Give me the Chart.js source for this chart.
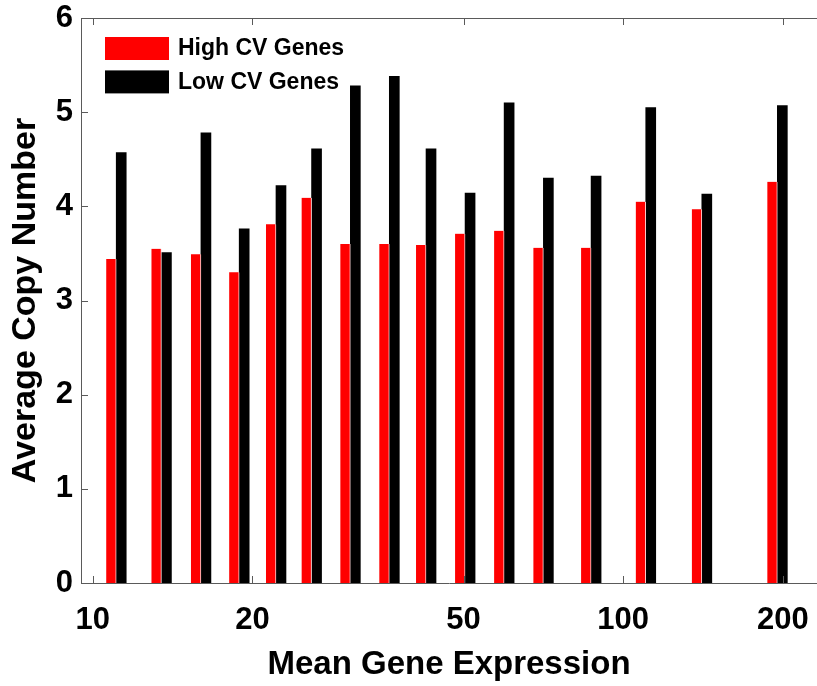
<!DOCTYPE html>
<html lang="en">
<head>
<meta charset="UTF-8">
<title>Average Copy Number vs Mean Gene Expression</title>
<script src="https://cdn.jsdelivr.net/npm/chart.js"></script>
<style>
  body { margin: 0; background: #fff; }
  canvas { display: block; }
</style>
</head>
<body>
<canvas id="myChart" width="817" height="686"></canvas>
<script>
// expression bins (log-spaced centres) and average copy number per bin
const binCenters = [11.07, 13.47, 15.99, 18.88, 22.15, 25.85, 30.59, 36.23, 42.49, 50.34, 59.64, 70.72, 87.0, 110.3, 140.7, 195.3];
const highCV = [3.44, 3.55, 3.49, 3.30, 3.81, 4.09, 3.60, 3.60, 3.59, 3.71, 3.74, 3.56, 3.56, 4.05, 3.97, 4.26];
const lowCV = [4.57, 3.51, 4.78, 3.76, 4.22, 4.61, 5.28, 5.38, 4.61, 4.14, 5.10, 4.30, 4.32, 5.05, 4.13, 5.07];
const xTicks = [10, 20, 50, 100, 200];
const yTicks = [0, 1, 2, 3, 4, 5, 6];

const axisColor = '#5a5a5a';
const fontFamily = '"Liberation Sans", Arial, sans-serif';

// box frame with inward tick marks + legend inside the plot
const frame = {
    id: 'frame',
    afterDatasetsDraw(chart) {
        const { ctx, chartArea: a, scales: { x, y } } = chart;
        ctx.save();
        ctx.strokeStyle = axisColor;
        ctx.lineWidth = 1;
        ctx.beginPath();
        ctx.moveTo(a.left, a.top + 0.5);
        ctx.lineTo(a.right, a.top + 0.5);
        xTicks.forEach(v => {
            const px = Math.round(x.getPixelForValue(v)) + 0.5;
            ctx.moveTo(px, a.bottom);
            ctx.lineTo(px, a.bottom - 7);
            ctx.moveTo(px, a.top);
            ctx.lineTo(px, a.top + 7);
        });
        yTicks.forEach(v => {
            const py = Math.round(y.getPixelForValue(v)) + 0.5;
            ctx.moveTo(a.left, py);
            ctx.lineTo(a.left + 7, py);
        });
        ctx.stroke();

        ctx.font = 'bold 23px ' + fontFamily;
        ctx.textBaseline = 'middle';
        ctx.textAlign = 'left';
        chart.data.datasets.forEach((ds, i) => {
            const bx = a.left + 24;
            const by = a.top + 19 + i * 33.4;
            ctx.fillStyle = ds.backgroundColor;
            ctx.fillRect(bx, by, 64, 23);
            ctx.fillStyle = '#000';
            ctx.fillText(ds.label, bx + 73, by + 12);
        });
        ctx.restore();
    }
};

const ctx = document.getElementById('myChart').getContext('2d');

const chart = new Chart(ctx, {
    type: 'bar',
    data: {
        labels: binCenters,
        datasets: [{
            label: 'High CV Genes',
            data: highCV,
            backgroundColor: '#ff0000',
            borderColor: '#ffd6d6',
            borderWidth: { top: 0, left: 0, bottom: 0, right: 1 },
            borderSkipped: false,
            barThickness: 10
        }, {
            label: 'Low CV Genes',
            data: lowCV,
            backgroundColor: '#000000',
            barThickness: 10
        }]
    },
    options: {
        responsive: false,
        animation: false,
        layout: { padding: { top: 18, right: 0, bottom: 0, left: 0 } },
        plugins: {
            legend: { display: false },
            tooltip: { enabled: false }
        },
        scales: {
            x: {
                type: 'logarithmic',
                min: 9.5,
                max: 232,
                grid: { display: false, drawTicks: false },
                border: { display: true, color: axisColor, width: 1 },
                afterBuildTicks: scale => {
                    scale.ticks = xTicks.map(v => ({ value: v }));
                },
                afterFit: scale => {
                    scale.height = 103;
                    scale.paddingLeft = 0;
                    scale.paddingRight = 0;
                },
                ticks: {
                    color: '#000',
                    padding: 19,
                    maxRotation: 0,
                    autoSkip: false,
                    font: { family: fontFamily, size: 31, weight: 'bold' },
                    callback: value => String(value)
                },
                title: {
                    display: true,
                    text: 'Mean Gene Expression',
                    color: '#000',
                    padding: { top: 0, bottom: 1 },
                    font: { family: fontFamily, size: 33, weight: 'bold' }
                }
            },
            y: {
                min: 0,
                max: 6,
                grid: { display: false, drawTicks: false },
                border: { display: true, color: axisColor, width: 1 },
                afterFit: scale => {
                    scale.width = 81;
                    scale.paddingTop = 0;
                    scale.paddingBottom = 0;
                },
                ticks: {
                    stepSize: 1,
                    color: '#000',
                    padding: 8,
                    font: { family: fontFamily, size: 31, weight: 'bold' }
                },
                title: {
                    display: true,
                    text: 'Average Copy Number',
                    color: '#000',
                    padding: { top: 5, bottom: 0 },
                    font: { family: fontFamily, size: 34, weight: 'bold' }
                }
            }
        }
    },
    plugins: [frame]
});
</script>
</body>
</html>
